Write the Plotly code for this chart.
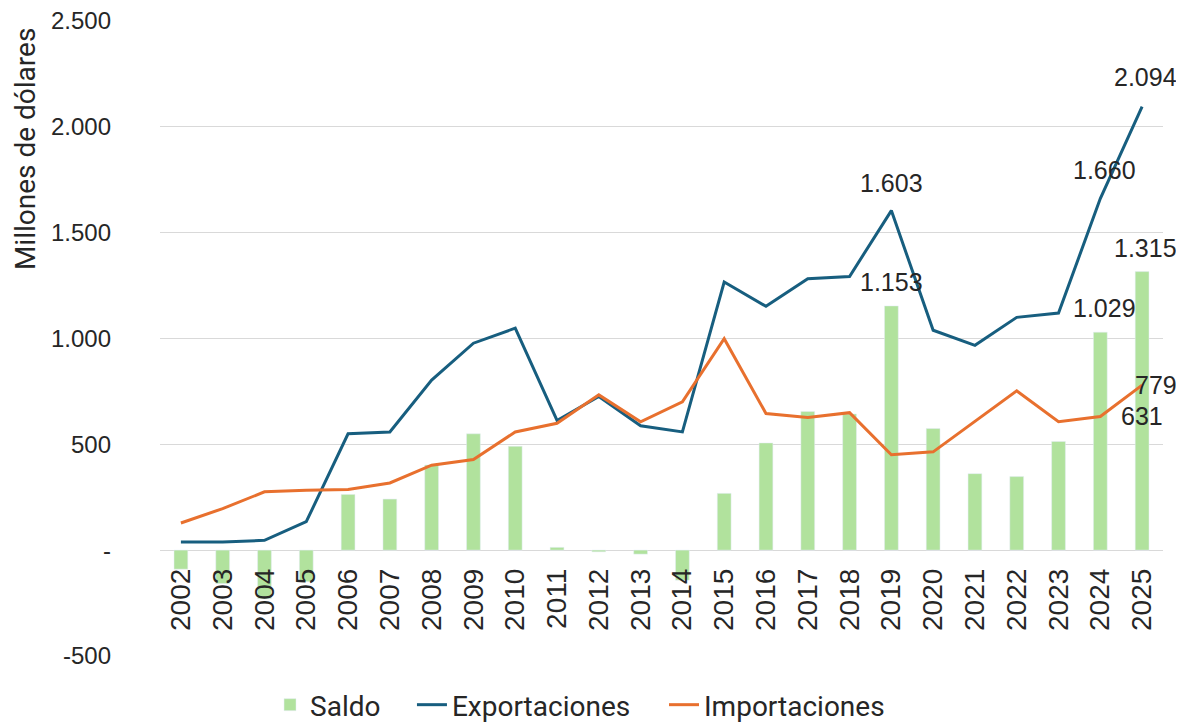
import plotly.graph_objects as go

years = [str(y) for y in range(2002, 2026)]
exportaciones = [38, 38, 46, 134, 549, 558, 803, 977, 1048, 612, 725, 587, 558,
                 1266, 1151, 1281, 1292, 1603, 1038, 967, 1099, 1119, 1660, 2094]
importaciones = [128, 196, 275, 283, 286, 317, 401, 428, 558, 599, 733, 606, 700,
                 998, 645, 626, 649, 450, 464, 606, 752, 606, 631, 779]
saldo = [-90, -158, -229, -149, 263, 241, 402, 549, 490, 13, -8, -19, -142,
         268, 506, 655, 643, 1153, 574, 361, 347, 513, 1029, 1315]

y_tickvals = [-500, 0, 500, 1000, 1500, 2000, 2500]
y_ticktext = ["-500", "-", "500", "1.000", "1.500", "2.000", "2.500"]
Y_MIN, Y_MAX = -500, 2503

# labelled points: (series, year, xshift, yshift)
labels = [
    ("exp", "2019", 0, 28), ("exp", "2024", 4, 29), ("exp", "2025", 3, 30),
    ("sal", "2019", 0, 24), ("sal", "2024", 4, 24), ("sal", "2025", 3, 24),
    ("imp", "2025", 14, 0), ("imp", "2024", 42, 0),
]

C_EXP = "#175E7F"
C_IMP = "#E8702E"
C_SAL = "#B1E29D"
TXT = "#262626"


def fmt(v):
    return f"{v:,}".replace(",", ".")


fig = go.Figure()
fig.add_trace(go.Bar(x=years, y=saldo, name="Saldo", marker_color=C_SAL,
                     width=0.33, legend="legend"))
fig.add_trace(go.Scatter(x=years, y=exportaciones, name="Exportaciones",
                         mode="lines", line=dict(color=C_EXP, width=3),
                         legend="legend2"))
fig.add_trace(go.Scatter(x=years, y=importaciones, name="Importaciones",
                         mode="lines", line=dict(color=C_IMP, width=3),
                         legend="legend3"))

series = {"exp": exportaciones, "imp": importaciones, "sal": saldo}
for s, yr, xs, ys in labels:
    i = years.index(yr)
    v = series[s][i]
    fig.add_annotation(x=i, y=v, xref="x", yref="y", text=fmt(v),
                       showarrow=False, xshift=xs, yshift=ys,
                       font=dict(family="Liberation Sans", size=25, color=TXT))

fig.add_annotation(text="Millones de dólares", xref="paper", yref="paper",
                   x=-0.1346, y=0.797, xanchor="center", yanchor="middle",
                   textangle=-90, showarrow=False,
                   font=dict(family="Roboto", size=28, color=TXT))

leg_common = dict(orientation="h", xanchor="left", y=-0.077, yanchor="middle",
                  font=dict(family="Roboto", size=28, color=TXT),
                  itemwidth=30, bgcolor="rgba(0,0,0,0)")

fig.update_layout(
    width=1176, height=714,
    margin=dict(l=152, r=21, t=12, b=66, autoexpand=False),
    plot_bgcolor="white", paper_bgcolor="white",
    showlegend=True,
    legend=dict(x=0.1097, **leg_common),
    legend2=dict(x=0.2512, **leg_common),
    legend3=dict(x=0.5025, **leg_common),
    xaxis=dict(type="category", range=[-0.5, len(years) - 0.5],
               autorange=False, anchor="free",
               position=(0 - Y_MIN) / (Y_MAX - Y_MIN),
               tickangle=-90, showgrid=False, showline=False,
               ticks="", ticklabelstandoff=12,
               tickfont=dict(family="Liberation Sans", size=28, color=TXT)),
    yaxis=dict(range=[Y_MIN, Y_MAX], autorange=False,
               tickvals=y_tickvals, ticktext=y_ticktext,
               showgrid=True, gridcolor="#D9D9D9", gridwidth=1,
               zeroline=True, zerolinecolor="#D9D9D9", zerolinewidth=1,
               ticks="", ticklabelstandoff=48, ticklabeloverflow="allow",
               tickfont=dict(family="Liberation Sans", size=24, color=TXT)),
)

fig.write_html("out.html")
